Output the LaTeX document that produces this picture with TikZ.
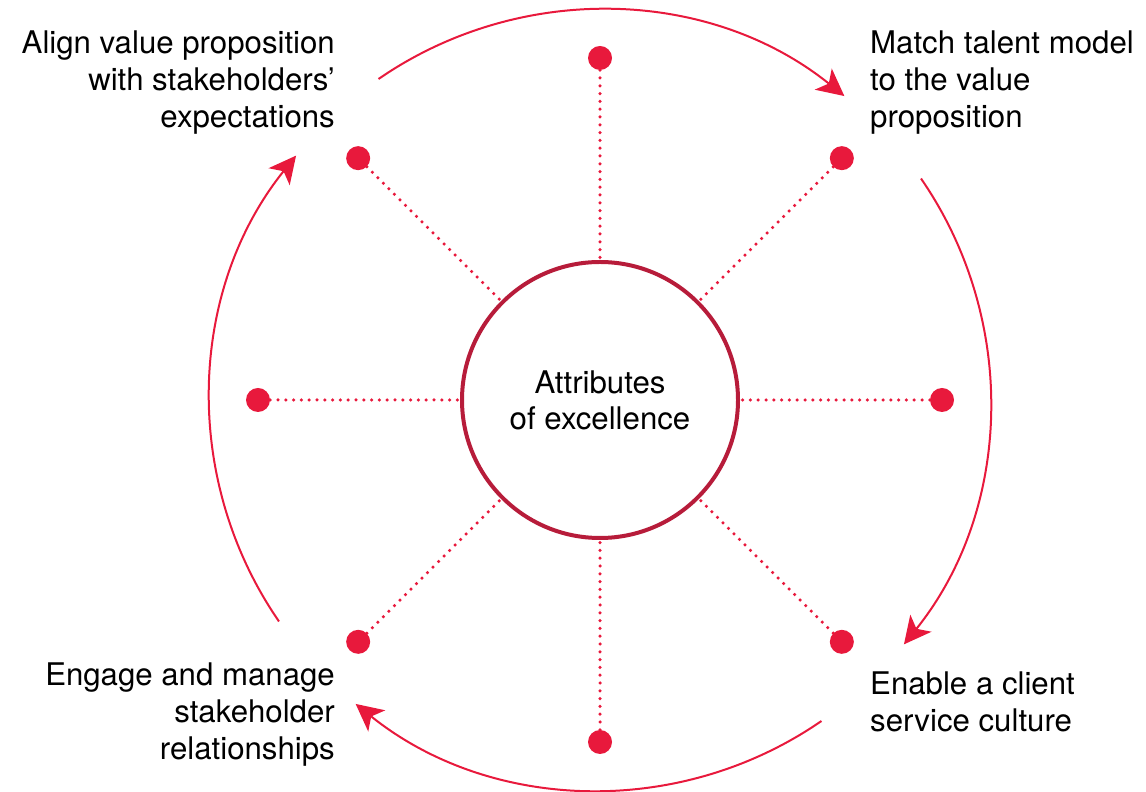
\documentclass[tikz,border=0pt]{standalone}
\usepackage{fontspec}
\setmainfont{TeX Gyre Heros}
\usetikzlibrary{arrows.meta}
\definecolor{dotred}{HTML}{E8193C}
\definecolor{ringred}{HTML}{B71C3A}
\tikzset{
  x=1pt, y=1pt,
  lbl/.style={inner sep=0pt, font=\fontsize{31.2}{37}\selectfont},
  hubnode/.style={circle, draw=ringred, line width=4pt, minimum size=276pt, inner sep=0pt,
    align=center, font=\fontsize{31.2}{36}\selectfont},
  dotnode/.style={circle, fill=dotred, minimum size=24pt, inner sep=0pt},
  dotline/.style={draw=dotred, line width=3.5pt, line cap=round, dash pattern=on 0pt off 7.8pt},
  cyc/.style={draw=dotred, line width=2pt, -{Stealth[length=27pt, width=27pt, inset=7pt]}}
}
\begin{document}
\begin{tikzpicture}
\useasboundingbox (0,0) rectangle (1146,792);
\node[hubnode] (hub) at (600,392) {Attributes\\of excellence};
\foreach \a in {0,45,...,315}{
  \node[dotnode] (d\a) at ([shift={(\a:342)}]hub.center) {};
  \draw[dotline] (d\a) -- (hub.\a);
}
\foreach \s/\e [count=\i] in {124.6/51.2, 34.6/-38.8, -55.4/-128.8, 214.6/141.2}{
  \coordinate (c\i) at ([shift={(\s:390)}]hub.center);
  \draw[cyc] (c\i) arc[start angle=\s, end angle=\e, radius=390];
}
\node[lbl, align=right, anchor=base east] (tl) at (335,664) {Align value proposition\\with stakeholders’\\expectations};
\node[lbl, align=left, anchor=base west] (tr) at (870,664) {Match talent model\\to the value\\proposition};
\node[lbl, align=left, anchor=base west] (br) at (870,60) {Enable a client\\service culture};
\node[lbl, align=right, anchor=base east] (bl) at (335,32) {Engage and manage\\stakeholder\\relationships};
\end{tikzpicture}
\end{document}
